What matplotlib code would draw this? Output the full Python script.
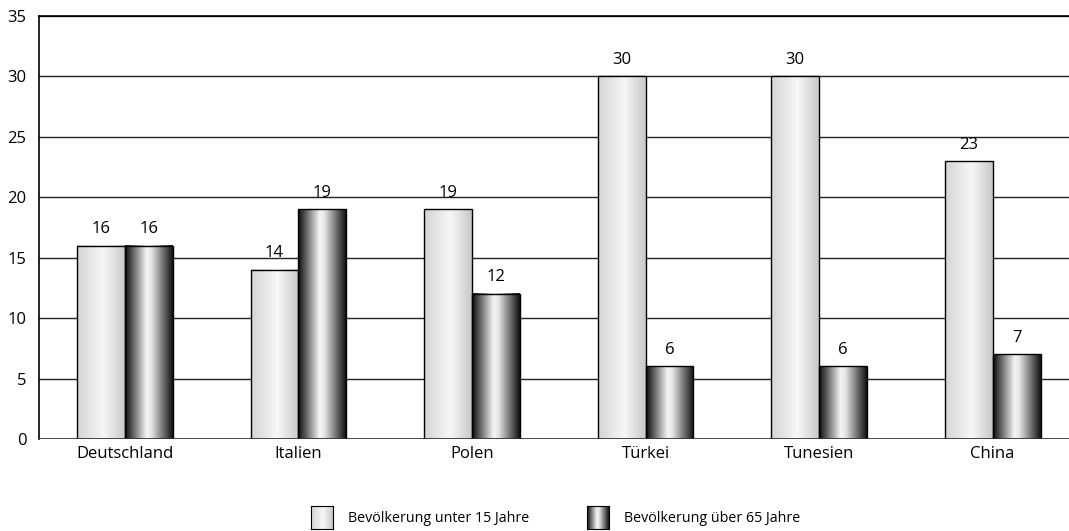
import matplotlib.pyplot as plt
import numpy as np
from matplotlib.colors import LinearSegmentedColormap

plt.rcParams['font.family'] = ['Open Sans', 'DejaVu Sans']

laender = ['Deutschland', 'Italien', 'Polen', 'Türkei', 'Tunesien', 'China']
unter_15 = [16, 14, 19, 30, 30, 23]
ueber_65 = [16, 19, 12, 6, 6, 7]
serien = ['Bevölkerung unter 15 Jahre', 'Bevölkerung über 65 Jahre']

# zylindrische Verläufe für die Balken
hell = LinearSegmentedColormap.from_list(
    'hell', [(0, '#d4d4d4'), (0.55, '#f7f7f7'), (1, '#c8c8c8')])
dunkel = LinearSegmentedColormap.from_list(
    'dunkel', [(0, '#0a0a0a'), (0.45, '#f5f5f5'), (0.55, '#e6e6e6'), (1, '#111111')])
verlauf = np.linspace(0, 1, 256).reshape(1, -1)

fig = plt.figure(figsize=(10.69, 5.31), dpi=100)
ax = fig.add_axes([0.0365, 0.1733, 0.9635, 0.7966])

x = np.arange(len(laender))
breite = 0.276

def zylinder(xpos, hoehen, cmap):
    balken = ax.bar(xpos, hoehen, width=breite, facecolor='none',
                    edgecolor='black', linewidth=1, zorder=4)
    for b in balken:
        x0, w, h = b.get_x(), b.get_width(), b.get_height()
        ax.imshow(verlauf, cmap=cmap, aspect='auto', extent=(x0, x0 + w, 0, h),
                  zorder=3, interpolation='bicubic')
    for xi, h in zip(xpos, hoehen):
        ax.text(xi, h + 0.7, str(h), ha='center', va='bottom', fontsize=12)

zylinder(x - breite / 2, unter_15, hell)
zylinder(x + breite / 2, ueber_65, dunkel)

ax.set_xlim(-0.495, 5.44)
ax.set_ylim(0, 35)
ax.set_yticks(range(0, 36, 5))
ax.set_xticks(x)
ax.set_xticklabels(laender)
ax.tick_params(length=0, labelsize=12, pad=5)
ax.tick_params(axis='y', pad=9)
ax.yaxis.grid(True, color='#222222', linewidth=1)
ax.set_axisbelow(True)
for s in ['right', 'bottom']:
    ax.spines[s].set_visible(False)
ax.spines['left'].set_linewidth(1.2)
ax.spines['top'].set_linewidth(1.2)
ax.axhline(0, color='#333333', linewidth=1.2, zorder=5)

# Legende unten
for links, cmap, text in [(311, hell, serien[0]), (587, dunkel, serien[1])]:
    lax = fig.add_axes([links / 1069, 2 / 531, 22 / 1069, 23 / 531])
    lax.imshow(verlauf, cmap=cmap, aspect='auto', interpolation='bicubic')
    lax.set_xticks([])
    lax.set_yticks([])
    for sp in lax.spines.values():
        sp.set_linewidth(0.8)
    fig.text((links + 37) / 1069, 12 / 531, text, fontsize=10.3, va='center')

fig.savefig('out.png', dpi=100)
